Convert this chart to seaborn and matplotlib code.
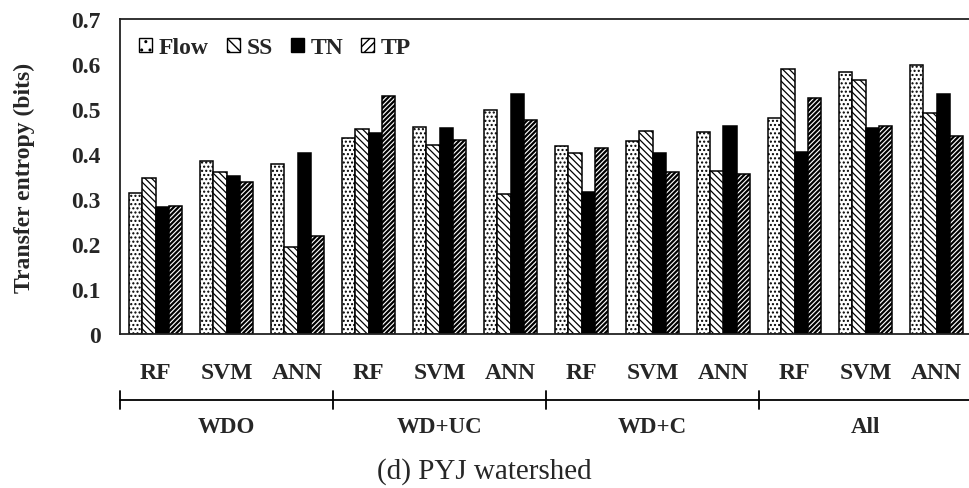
import numpy as np
import pandas as pd
import matplotlib
matplotlib.use("Agg")
import matplotlib.pyplot as plt
import matplotlib.transforms as mtransforms
import seaborn as sns

# ---------------- data ----------------
groups = ["WDO", "WD+UC", "WD+C", "All"]
models = ["RF", "SVM", "ANN"]
series = ["Flow", "SS", "TN", "TP"]

flow = [0.313, 0.384, 0.377, 0.434, 0.459, 0.496, 0.418, 0.428, 0.448, 0.479, 0.582, 0.596]
ss   = [0.346, 0.359, 0.192, 0.455, 0.420, 0.311, 0.402, 0.450, 0.361, 0.587, 0.564, 0.490]
tn   = [0.281, 0.351, 0.401, 0.447, 0.456, 0.533, 0.316, 0.401, 0.461, 0.403, 0.458, 0.532]
tp   = [0.285, 0.338, 0.217, 0.527, 0.430, 0.474, 0.413, 0.359, 0.355, 0.524, 0.461, 0.439]

yticks = [0, 0.1, 0.2, 0.3, 0.4, 0.5, 0.6, 0.7]
ytick_labels = ["0", "0.1", "0.2", "0.3", "0.4", "0.5", "0.6", "0.7"]
ylabel = "Transfer entropy (bits)"
caption = "(d) PYJ watershed"

# ---------------- build table ----------------
cat_keys = [f"{g}|{m}" for g in groups for m in models]
cat_labels = [m for g in groups for m in models]
values = {"Flow": flow, "SS": ss, "TN": tn, "TP": tp}
rows = []
for s in series:
    for k, v in zip(cat_keys, values[s]):
        rows.append({"cat": k, "series": s, "value": v})
df = pd.DataFrame(rows)

# ---------------- style ----------------
sns.set_style("white")
plt.rcParams["font.family"] = ["Liberation Serif", "DejaVu Serif"]
plt.rcParams["font.weight"] = "bold"
plt.rcParams["hatch.linewidth"] = 1.0
plt.rcParams["hatch.color"] = "black"

FS = 17
fig = plt.figure(figsize=(9.69, 4.89), dpi=100)
W, H = 969, 489
ax = fig.add_axes([120 / W, 1 - 335 / H, (972 - 120) / W, (335 - 19.5) / H])

palette = {"Flow": "white", "SS": "white", "TN": "black", "TP": "white"}
sns.barplot(data=df, x="cat", y="value", hue="series", order=cat_keys,
            hue_order=series, palette=palette, width=0.74, ax=ax,
            edgecolor="black", linewidth=1.1, saturation=1, legend=True)

hatches = {"Flow": "....", "SS": "\\\\\\\\\\", "TN": "", "TP": "///////"}
hatch_lw = {"Flow": 1.0, "SS": 0.9, "TN": 1.0, "TP": 1.6}
for cont, s in zip(ax.containers, series):
    for p in cont.patches:
        p.set_hatch(hatches[s])
        try:
            p.set_hatch_linewidth(hatch_lw[s])
        except Exception:
            pass

# legend
handles, labels = ax.get_legend_handles_labels()
leg_hatch = {"Flow": "..", "SS": "\\\\\\", "TN": "", "TP": "////"}
for h, s in zip(handles, series):
    h.set_hatch(leg_hatch[s])
    h.set_edgecolor("black")
    h.set_linewidth(1.0)
ax.legend(handles, labels, loc="upper left", bbox_to_anchor=(0.0, 1.0),
          ncol=4, frameon=False, handlelength=0.55, handleheight=0.55,
          handletextpad=0.3, columnspacing=0.75, borderaxespad=0.4,
          prop={"family": "Liberation Serif", "weight": "bold", "size": FS})

# axes
ax.set_ylim(0, 0.7)
ax.set_xlim(-0.5, len(cat_keys) - 0.5)
ax.set_yticks(yticks)
ax.set_yticklabels(ytick_labels, fontsize=FS, fontweight="bold")
ax.set_xticks(range(len(cat_keys)))
ax.set_xticklabels(cat_labels, fontsize=FS, fontweight="bold")
ax.tick_params(axis="both", length=0)
ax.tick_params(axis="y", pad=14)
ax.tick_params(axis="x", pad=20)
ax.set_xlabel("")
ax.set_ylabel("")
for side in ["left", "top", "bottom", "right"]:
    ax.spines[side].set_visible(True)
    ax.spines[side].set_color("#222222")
    ax.spines[side].set_linewidth(1.3)

fig.text(24 / W, 1 - 178 / H, ylabel, rotation=90, ha="center", va="center",
         fontsize=FS, fontweight="bold")

# group bracket
trans = mtransforms.blended_transform_factory(ax.transData, fig.transFigure)
ybr = 1 - 401 / H
ax.plot([-0.5, len(cat_keys) - 0.5], [ybr, ybr], transform=trans, color="black",
        lw=1.3, clip_on=False)
for i in range(len(groups) + 1):
    xb = i * len(models) - 0.5
    ax.plot([xb, xb], [1 - 392 / H, 1 - 410 / H], transform=trans, color="black",
            lw=1.3, clip_on=False)
for i, g in enumerate(groups):
    xc = i * len(models) + (len(models) - 1) / 2
    ax.text(xc, 1 - 428 / H, g, transform=trans, ha="center", va="center",
            fontsize=FS - 0.5, fontweight="bold")

fig.text(0.5, 1 - 472 / H, caption, ha="center", va="center", fontsize=21,
         fontweight="normal")

fig.savefig("out.png", dpi=100)
